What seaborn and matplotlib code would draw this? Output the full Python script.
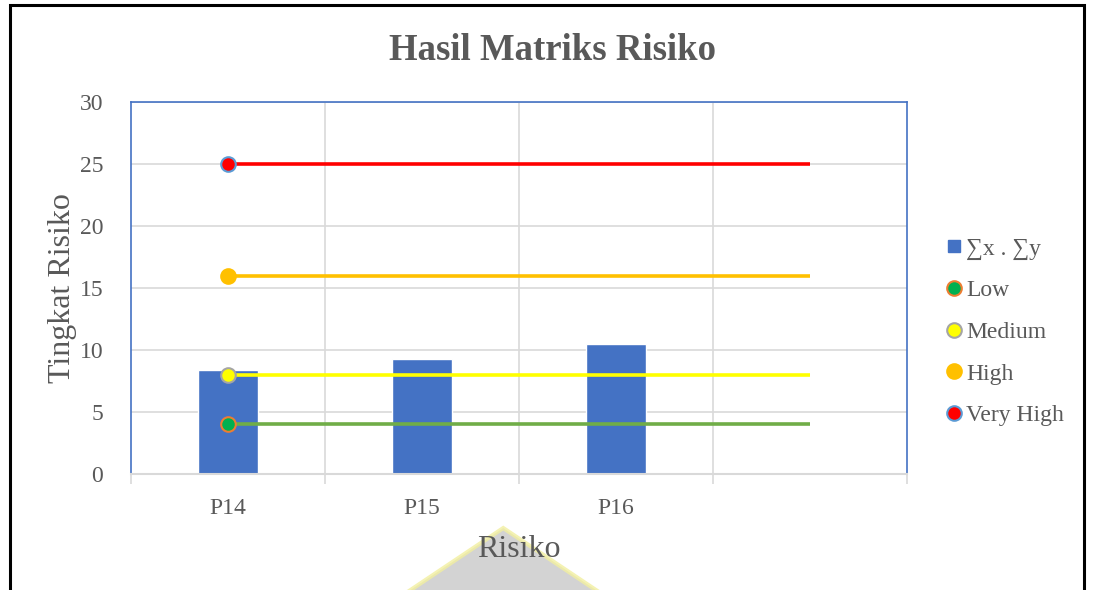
import matplotlib
matplotlib.use("Agg")
import matplotlib.pyplot as plt
from matplotlib.lines import Line2D
from matplotlib.patches import Rectangle, Polygon
import seaborn as sns
import pandas as pd

# data
categories = ["P14", "P15", "P16", " "]
bar_values = [8.35, 9.3, 10.5]
level_names = ["Low", "Medium", "High", "Very High"]
level_values = [4, 8, 16, 25]
level_colors = ["#70AD47", "#FFFF00", "#FFC000", "#FF0000"]
marker_faces = ["#00B050", "#FFFF00", "#FFC000", "#FF0000"]
marker_edges = ["#ED7D31", "#A5A5A5", "#FFC000", "#5B9BD5"]
bar_label = "\u2211x . \u2211y"

sns.set_theme(style="white")
plt.rcParams["font.family"] = ["Liberation Serif", "DejaVu Serif"]

text_grey = "#595959"
grid_grey = "#D9D9D9"
axis_blue = "#4472C4"

fig = plt.figure(figsize=(10.94, 5.90), dpi=100)
ax = fig.add_axes([0.1197, 0.1966, 0.829 - 0.1197, 0.8271 - 0.1966])

df = pd.DataFrame({"risk": categories[:len(bar_values)], "value": bar_values})
sns.barplot(data=df, x="risk", y="value", order=categories, color=axis_blue,
            saturation=1, width=0.31, ax=ax, zorder=2)

# risk level lines from first category to last slot
xs = [0, len(categories) - 1]
for name, val, lc, fc, ec in zip(level_names, level_values, level_colors,
                                 marker_faces, marker_edges):
    ax.plot(xs, [val, val], color=lc, lw=2.6, zorder=3, solid_capstyle="butt")
    ax.plot([xs[0]], [val], marker="o", ms=10.5, mfc=fc, mec=ec, mew=1.5,
            zorder=4, linestyle="none")

ax.set_xlim(-0.5, len(categories) - 0.5)
ax.set_ylim(0, 30)
ax.set_yticks(range(0, 31, 5))
ax.yaxis.grid(True, color=grid_grey, lw=1.2, zorder=0)
ax.set_axisbelow(True)

# vertical gridlines / ticks on category boundaries
bounds = [i - 0.5 for i in range(len(categories) + 1)]
for b in bounds[1:-1]:
    ax.axvline(b, color=grid_grey, lw=1.2, zorder=0)
ax.set_xticks(bounds)
ax.set_xticklabels([])
ax.set_xticks(range(len(categories)), minor=True)
ax.set_xticklabels(categories, minor=True)
ax.tick_params(axis="x", which="major", length=7, width=1.2, color=grid_grey,
               direction="out", bottom=True)
ax.tick_params(axis="x", which="minor", length=0, pad=17, labelsize=17,
               labelcolor=text_grey)
ax.tick_params(axis="y", length=0, pad=20, labelsize=17, labelcolor=text_grey)

for side in ["top", "left", "right"]:
    ax.spines[side].set_color(axis_blue)
    ax.spines[side].set_linewidth(1.2)
    ax.spines[side].set_visible(True)
ax.spines["bottom"].set_color(grid_grey)
ax.spines["bottom"].set_linewidth(1.5)
ax.spines["bottom"].set_zorder(5)

ax.set_xlabel("Risiko", fontsize=23, color=text_grey, labelpad=12)
ax.set_ylabel("Tingkat Risiko", fontsize=23, color=text_grey, labelpad=2)

fig.text(0.5046, 0.915, "Hasil Matriks Risiko", ha="center", va="center",
         fontsize=26.5, fontweight="bold", color=text_grey)

handles = [Line2D([], [], linestyle="none", marker="s", ms=9,
                  mfc=axis_blue, mec=axis_blue)]
for fc, ec in zip(marker_faces, marker_edges):
    handles.append(Line2D([], [], linestyle="none", marker="o", ms=10.5,
                          mfc=fc, mec=ec, mew=1.5))
leg = fig.legend(handles, [bar_label] + level_names, loc="center left",
                 bbox_to_anchor=(0.857, 0.437), frameon=False, fontsize=17,
                 handlelength=0.6, handletextpad=0.2, labelspacing=0.85,
                 borderaxespad=0)
for t in leg.get_texts():
    t.set_color(text_grey)

# faint watermark logo at the bottom
fig.patches.append(Polygon([(0.335, -0.05), (0.46, 0.105), (0.585, -0.05)],
                           closed=True, transform=fig.transFigure,
                           facecolor="#C8C8C8", edgecolor="#F2EFA0", lw=3,
                           alpha=0.8, zorder=-1))

# outer border of the chart area
fig.patches.append(Rectangle((0.0095, -0.05), 0.9815, 1.041, fill=False,
                             transform=fig.transFigure, edgecolor="black",
                             lw=2.2))

fig.savefig("out.png", dpi=100)
